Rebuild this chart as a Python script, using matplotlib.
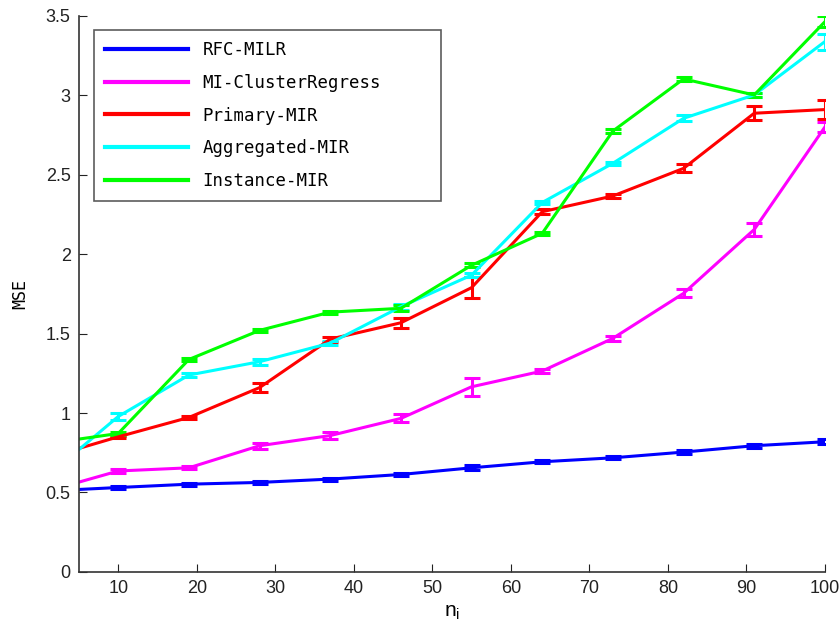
import matplotlib
matplotlib.use("Agg")
import matplotlib.pyplot as plt

ni = [1, 10, 19, 28, 37, 46, 55, 64, 73, 82, 91, 100]

rfc = [0.509, 0.531, 0.552, 0.563, 0.584, 0.613, 0.655, 0.693, 0.718, 0.754, 0.794, 0.819]
rfc_err = [0.01, 0.01, 0.01, 0.01, 0.01, 0.01, 0.015, 0.01, 0.01, 0.01, 0.012, 0.015]

mic = [0.509, 0.635, 0.655, 0.794, 0.858, 0.966, 1.165, 1.264, 1.47, 1.753, 2.155, 2.8]
mic_err = [0.01, 0.01, 0.01, 0.02, 0.02, 0.025, 0.055, 0.015, 0.015, 0.025, 0.04, 0.03]

prim = [0.719, 0.85, 0.972, 1.16, 1.465, 1.568, 1.789, 2.267, 2.366, 2.54, 2.887, 2.91]
prim_err = [0.01, 0.005, 0.01, 0.026, 0.015, 0.03, 0.068, 0.015, 0.01, 0.025, 0.045, 0.06]

aggr = [0.604, 0.978, 1.239, 1.323, 1.44, 1.669, 1.868, 2.325, 2.572, 2.855, 3.002, 3.338]
aggr_err = [0.01, 0.02, 0.01, 0.02, 0.015, 0.02, 0.012, 0.01, 0.01, 0.02, 0.015, 0.05]

inst = [0.808, 0.871, 1.337, 1.52, 1.635, 1.659, 1.93, 2.131, 2.775, 3.103, 3.002, 3.463]
inst_err = [0.01, 0.01, 0.01, 0.01, 0.01, 0.02, 0.013, 0.01, 0.01, 0.01, 0.015, 0.035]

names = ["RFC-MILR", "MI-ClusterRegress", "Primary-MIR", "Aggregated-MIR", "Instance-MIR"]
colors = ["#0000ff", "#ff00ff", "#ff0000", "#00ffff", "#00ff00"]

plt.rcParams["font.family"] = "Liberation Sans"

fig = plt.figure(figsize=(8.4, 6.34), dpi=100)
ax = fig.add_axes([0.094, 0.098, 0.888, 0.877])

series = [(rfc, rfc_err), (mic, mic_err), (prim, prim_err), (aggr, aggr_err), (inst, inst_err)]
for (vals, errs), name, c in zip(series, names, colors):
    ax.errorbar(ni, vals, yerr=errs, color=c, lw=2.2, capsize=6, capthick=2.2,
                elinewidth=2.2, label=name)

ax.set_xlim(5, 100)
ax.set_ylim(0, 3.5)
ax.set_xticks([10, 20, 30, 40, 50, 60, 70, 80, 90, 100])
ax.set_yticks([0, 0.5, 1, 1.5, 2, 2.5, 3, 3.5])
ax.set_yticklabels(["0", "0.5", "1", "1.5", "2", "2.5", "3", "3.5"])
ax.tick_params(direction="in", length=6, labelsize=13, colors="#222222", pad=6)
for s in ["top", "right"]:
    ax.spines[s].set_visible(False)
for s in ["left", "bottom"]:
    ax.spines[s].set_color("#333333")
    ax.spines[s].set_linewidth(1.2)

ax.set_xlabel(r"$\mathregular{n_i}$", fontsize=15, labelpad=4)
ax.set_ylabel("MSE", fontsize=12, family="DejaVu Sans Mono", labelpad=12)

handles, labels = ax.get_legend_handles_labels()
handles = [h[0] for h in handles]
leg = ax.legend(handles, labels, loc="upper left",
                bbox_to_anchor=(0.02, 0.975 - 0.31, 0.465, 0.31), mode="expand",
                prop={"family": "DejaVu Sans Mono", "size": 12.5}, frameon=True,
                fancybox=False, edgecolor="#333333", handlelength=4.8,
                labelspacing=0.85, borderpad=0.65, borderaxespad=0)
leg.get_frame().set_linewidth(1.2)
for l in leg.get_lines():
    l.set_linewidth(3)

fig.savefig("out.png", dpi=100)
